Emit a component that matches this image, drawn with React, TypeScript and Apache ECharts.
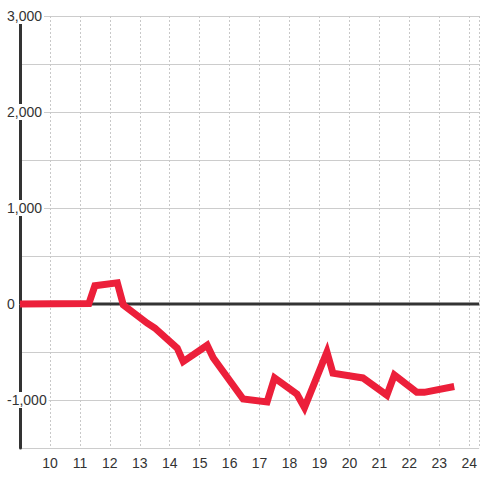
import React, { useEffect, useRef } from "react";
import * as echarts from "echarts";

const xValues = [9, 11.3, 11.5, 12.25, 12.45, 13.25, 13.5, 14.25, 14.45, 15.25, 15.45, 16.45, 17.25, 17.5, 18.25, 18.5, 19.25, 19.45, 20.25, 20.45, 21.25, 21.5, 22.25, 22.5, 23.5];
const yValues = [0, 5, 190, 220, -10, -200, -250, -460, -600, -430, -560, -990, -1020, -770, -940, -1080, -500, -720, -760, -770, -950, -740, -920, -920, -860];
const xMin = 9;
const xMax = 24.333;
const yMin = -1500;
const yMax = 3000;
const baseline = [[xMin, 0], [xMax, 0]];

export default function App() {
  const ref = useRef<HTMLDivElement>(null);
  useEffect(() => {
    const chart = echarts.init(ref.current!, null, { renderer: "svg" });
    chart.setOption({
      animation: false,
      backgroundColor: "#ffffff",
      grid: { left: 20, right: 0, top: 16, bottom: 32, containLabel: false },
      xAxis: {
        type: "value",
        min: xMin,
        max: xMax,
        interval: 1,
        axisLine: { show: true, lineStyle: { color: "#cccccc", width: 1 } },
        axisTick: { show: false },
        axisLabel: {
          showMinLabel: false,
          showMaxLabel: false,
          color: "#333333",
          fontSize: 14,
          fontFamily: "Liberation Sans, Arial, sans-serif",
          margin: 8,
        },
        splitLine: { show: true, lineStyle: { color: "#c8c8c8", type: [2, 2], width: 1 } },
      },
      yAxis: {
        type: "value",
        min: yMin,
        max: yMax,
        interval: 500,
        axisLine: { show: true, lineStyle: { color: "#333333", width: 3 } },
        axisTick: { show: false },
        axisLabel: {
          align: "left",
          margin: 13,
          color: "#333333",
          fontSize: 14,
          fontFamily: "Liberation Sans, Arial, sans-serif",
          backgroundColor: "#ffffff",
          padding: [1, 2, 1, 0],
          formatter: (v: number) => (v % 1000 === 0 ? v.toLocaleString("en-US").replace("−", "-") : ""),
        },
        splitLine: { show: true, lineStyle: { color: "#cccccc", width: 1 } },
      },
      series: [
        {
          type: "line",
          data: baseline,
          symbol: "none",
          silent: true,
          z: 1,
          lineStyle: { color: "#333333", width: 3 },
        },
        {
          type: "line",
          data: xValues.map((x, i) => [x, yValues[i]]),
          symbol: "none",
          z: 3,
          lineStyle: { color: "#ec1f3a", width: 7, join: "miter" },
        },
      ],
    });
    return () => chart.dispose();
  }, []);
  return (
    <div
      ref={ref}
      style={{ position: "fixed", left: 0, top: 0, width: 480, height: 480, background: "#fff" }}
    />
  );
}
